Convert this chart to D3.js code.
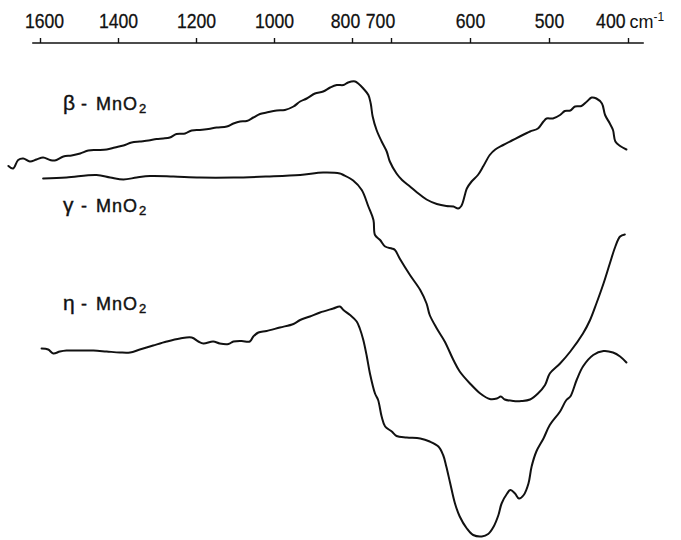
<!DOCTYPE html>
<html>
<head>
<meta charset="utf-8">
<script src="https://cdn.jsdelivr.net/npm/d3@7"></script>
<style>
  html, body { margin: 0; padding: 0; background: #fff; }
  svg { display: block; }
</style>
</head>
<body>
<svg id="chart" width="681" height="540"></svg>
<script>
// Wavenumber axis (cm-1): the chart paper changes scale at 700 cm-1
const tickValues = [1600, 1400, 1200, 1000, 800, 700, 600, 500, 400];
const scaleBreaks = [1600, 700, 400];
const axisUnit = "cm";
const axisUnitExp = "-1";

// Series names: [greek prefix, formula, subscript]
const seriesNames = [
  ["β", "MnO", "2"],
  ["γ", "MnO", "2"],
  ["η", "MnO", "2"]
];

// Transmittance traces (arbitrary offset units), [wavenumber, value]
const betaMnO2 = [
  [1681, 75.8], [1669, 75.3], [1656, 77.0], [1643, 77.3], [1626, 76.7], [1609, 77.1],
  [1592, 77.5], [1574, 77.0], [1562, 76.9], [1540, 77.7], [1519, 77.9], [1497, 78.3],
  [1476, 78.9], [1455, 79.0], [1429, 79.1], [1408, 79.5], [1386, 79.9], [1365, 80.5],
  [1344, 80.7], [1322, 80.9], [1301, 81.2], [1284, 81.3], [1267, 81.5], [1250, 82.2],
  [1228, 82.3], [1211, 82.9], [1190, 83.0], [1168, 83.2], [1147, 83.5], [1121, 83.7],
  [1104, 84.3], [1087, 84.7], [1070, 84.8], [1053, 85.5], [1036, 86.2], [1019, 86.5],
  [993, 86.9], [972, 87.0], [950, 87.7], [933, 88.7], [916, 89.3], [895, 90.3],
  [874, 90.7], [856, 91.5], [839, 92.0], [822, 92.0], [810, 92.5], [792, 92.7],
  [784, 92.3], [771, 91.3], [758, 90.0], [752, 88.3], [747, 85.7], [737, 83.0],
  [724, 80.7], [711, 78.7], [703, 76.7], [693, 74.3], [686, 73.0], [676, 71.7],
  [667, 70.5], [655, 69.1], [642, 68.2], [630, 67.8], [621, 67.7], [615, 67.3],
  [611, 67.8], [606, 70.3], [604, 71.3], [598, 72.7], [590, 74.0], [583, 75.8],
  [575, 78.0], [568, 79.1], [558, 80.0], [547, 80.9], [537, 81.7], [524, 82.7],
  [514, 83.3], [507, 84.7], [503, 85.3], [495, 85.3], [486, 86.0], [480, 86.8],
  [473, 86.9], [467, 87.7], [459, 87.8], [452, 88.7], [446, 89.5], [440, 89.3],
  [433, 88.3], [429, 86.0], [423, 84.3], [419, 83.0], [416, 80.7], [410, 79.8],
  [402, 79.1]
];

const gammaMnO2 = [
  [1592, 73.3], [1532, 73.5], [1455, 74.0], [1420, 73.5], [1386, 73.1], [1352, 73.5],
  [1318, 73.8], [1258, 73.7], [1190, 73.5], [1104, 73.5], [1019, 73.7], [933, 74.0],
  [874, 74.5], [831, 74.3], [822, 74.0], [797, 72.9], [775, 71.0], [758, 67.7],
  [745, 65.0], [741, 62.0], [728, 61.0], [715, 59.7], [699, 59.3], [695, 59.0],
  [689, 57.3], [676, 54.0], [663, 51.0], [655, 48.3], [651, 46.0], [642, 43.3],
  [632, 40.7], [621, 37.0], [613, 34.7], [600, 32.3], [587, 30.3], [575, 29.2],
  [566, 29.3], [561, 29.7], [556, 29.1], [545, 28.8], [535, 28.8], [524, 29.1],
  [514, 30.3], [505, 32.0], [499, 34.3], [486, 36.3], [473, 38.7], [457, 42.3],
  [448, 45.0], [440, 48.3], [431, 52.3], [423, 56.3], [416, 59.7], [410, 61.7],
  [404, 62.1]
];

const etaMnO2 = [
  [1596, 39.3], [1579, 39.1], [1566, 38.3], [1549, 38.7], [1532, 38.9], [1497, 38.9],
  [1463, 38.9], [1429, 38.7], [1395, 38.5], [1369, 38.5], [1344, 39.1], [1310, 39.9],
  [1275, 40.7], [1241, 41.3], [1211, 41.5], [1194, 40.7], [1181, 40.3], [1156, 40.7],
  [1139, 40.3], [1117, 40.2], [1104, 40.7], [1083, 40.8], [1062, 40.7], [1053, 41.7],
  [1040, 42.5], [1019, 42.8], [985, 43.5], [950, 44.2], [933, 45.0], [908, 45.7],
  [882, 46.5], [848, 47.3], [831, 47.7], [822, 47.0], [805, 46.0], [788, 44.7],
  [780, 43.3], [771, 41.0], [762, 37.7], [754, 34.3], [741, 30.3], [733, 29.0],
  [724, 25.7], [715, 23.7], [699, 22.7], [693, 21.8], [680, 21.5], [663, 21.3],
  [651, 20.7], [640, 19.7], [634, 18.0], [630, 15.7], [625, 12.3], [619, 8.3],
  [613, 5.7], [604, 3.3], [596, 2.0], [585, 1.7], [577, 2.2], [570, 3.7],
  [564, 6.0], [560, 8.3], [553, 10.3], [549, 11.0], [543, 10.3], [538, 9.3],
  [532, 10.0], [526, 12.3], [522, 15.7], [516, 18.7], [507, 21.3], [499, 24.0],
  [486, 26.7], [478, 29.0], [473, 29.7], [465, 33.0], [457, 35.7], [444, 38.0],
  [431, 38.8], [419, 38.5], [410, 37.7], [402, 36.5]
];

const traces = [betaMnO2, gammaMnO2, etaMnO2];

// ---- layout ----
const svg = d3.select("#chart");
const axisY = 43;
const ink = "#111";
const font = "'Liberation Sans', Arimo, 'DejaVu Sans', sans-serif";

const x = d3.scaleLinear()
  .domain(scaleBreaks)
  .range([40, 391, 628]);

const y = d3.scaleLinear()
  .domain([0, 100])
  .range([545, 45]);

// Top wavenumber axis
const axisG = svg.append("g")
  .attr("transform", `translate(0,${axisY})`)
  .call(d3.axisTop(x)
    .tickValues(tickValues)
    .tickSize(5)
    .tickSizeOuter(0)
    .tickPadding(10)
    .tickFormat(d3.format("d")));

axisG.select(".domain").remove();
axisG.selectAll(".tick line").attr("stroke", ink).attr("stroke-width", 1.4);

// narrow lettering: squeeze each label to ~10px per digit
axisG.selectAll(".tick text")
  .attr("fill", ink)
  .attr("stroke", ink)
  .attr("stroke-width", 0.3)
  .style("font-family", font)
  .style("font-size", "21px")
  .attr("textLength", d => String(d).length * 9.8)
  .attr("lengthAdjust", "spacingAndGlyphs");

// crowded 800 / 700 labels sit left of their ticks
axisG.selectAll(".tick text")
  .attr("dx", d => d === 800 ? -7 : d === 700 ? -11 : d === 1600 ? 4 : 0);

// last label carries the unit
const lastTick = axisG.selectAll(".tick").filter(d => d === tickValues[tickValues.length - 1]);
lastTick.select("text").attr("text-anchor", "end").attr("dx", -3);
const unit = lastTick.append("text")
  .attr("x", 1)
  .attr("y", -15)
  .attr("text-anchor", "start")
  .attr("fill", ink)
  .style("font-family", font)
  .style("font-size", "18px");
unit.append("tspan").text(axisUnit);
unit.append("tspan").attr("dy", -7).style("font-size", "12px").text(axisUnitExp);

svg.append("line")
  .attr("x1", x(1620)).attr("x2", x(380))
  .attr("y1", axisY).attr("y2", axisY)
  .attr("stroke", ink)
  .attr("stroke-width", 1.4);

// Spectra
const line = d3.line()
  .x(d => x(d[0]))
  .y(d => y(d[1]))
  .curve(d3.curveCatmullRom.alpha(0.5));

svg.append("g")
  .selectAll("path")
  .data(traces)
  .join("path")
  .attr("d", line)
  .attr("fill", "none")
  .attr("stroke", ink)
  .attr("stroke-width", 2)
  .attr("stroke-linejoin", "round")
  .attr("stroke-linecap", "round");

// Series labels
const labelX = 63, formulaX = 96;
const labelBaselines = [110, 212, 310];
const labels = svg.append("g")
  .selectAll("text")
  .data(seriesNames)
  .join("text")
  .attr("x", labelX)
  .attr("y", (d, i) => labelBaselines[i])
  .attr("fill", ink)
  .attr("stroke", ink)
  .attr("stroke-width", 0.4)
  .style("font-family", font)
  .style("font-size", "18px");

labels.append("tspan").style("font-size", "21px").text(d => d[0]);
labels.append("tspan").attr("x", 81).text("-");
labels.append("tspan").attr("x", formulaX).style("letter-spacing", "1px").text(d => d[1]);
labels.append("tspan").attr("dx", 1).attr("dy", 3).style("font-size", "13px").text(d => d[2]);
</script>
</body>
</html>
